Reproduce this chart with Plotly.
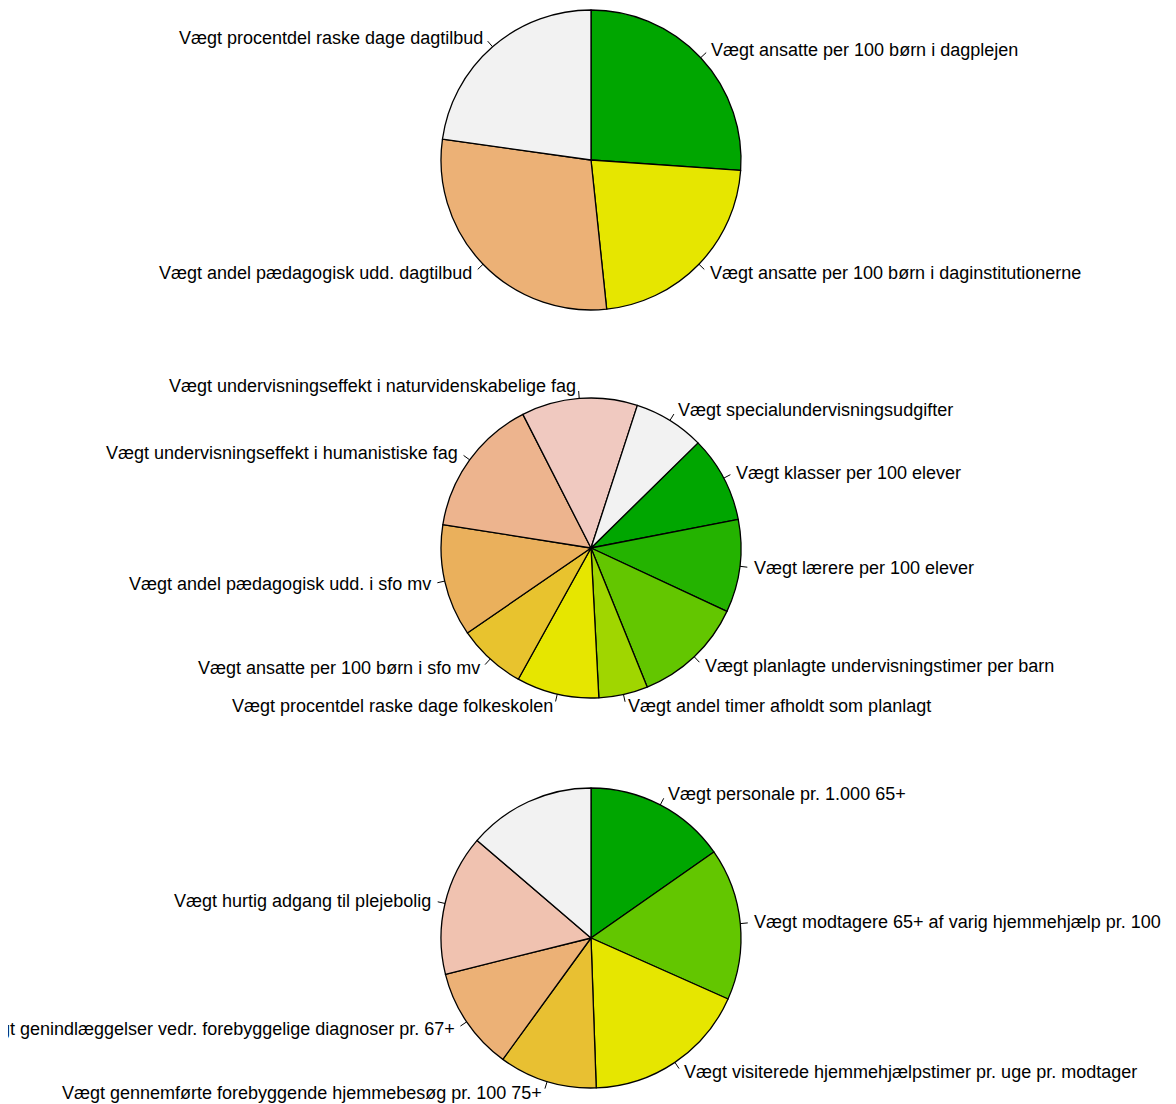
import numpy as np
import plotly.graph_objects as go

W, H = 1176, 1104

# pie 1: dagtilbud (degrees of the full circle, read clockwise from 12 o'clock)
labels1 = ["Vægt ansatte per 100 børn i dagplejen",
           "Vægt ansatte per 100 børn i daginstitutionerne",
           "Vægt andel pædagogisk udd. dagtilbud",
           "Vægt procentdel raske dage dagtilbud"]
values1 = [94, 80, 104, 82]
colors1 = ["#00A600", "#E6E600", "#ECB176", "#F2F2F2"]
start1 = 0

# pie 2: folkeskole
labels2 = ["Vægt klasser per 100 elever",
           "Vægt lærere per 100 elever",
           "Vægt planlagte undervisningstimer per barn",
           "Vægt andel timer afholdt som planlagt",
           "Vægt procentdel raske dage folkeskolen",
           "Vægt ansatte per 100 børn i sfo mv",
           "Vægt andel pædagogisk udd. i sfo mv",
           "Vægt undervisningseffekt i humanistiske fag",
           "Vægt undervisningseffekt i naturvidenskabelige fag",
           "Vægt specialundervisningsudgifter"]
values2 = [33.5, 36, 43, 19, 32, 26.5, 43.5, 54, 45, 27.5]
colors2 = ["#00A600", "#24B300", "#63C600", "#A0D600", "#E6E600",
           "#E8C32E", "#EAB05C", "#EDB48E", "#F0C9C0", "#F2F2F2"]
start2 = 45.5

# pie 3: ældre
labels3 = ["Vægt personale pr. 1.000 65+",
           "Vægt modtagere 65+ af varig hjemmehjælp pr. 100",
           "Vægt visiterede hjemmehjælpstimer pr. uge pr. modtager",
           "Vægt gennemførte forebyggende hjemmebesøg pr. 100 75+",
           "Vægt genindlæggelser vedr. forebyggelige diagnoser pr. 67+",
           "Vægt hurtig adgang til plejebolig",
           ""]
values3 = [55, 59, 64, 38, 40, 54.6, 49.4]
colors3 = ["#00A600", "#63C600", "#E6E600", "#E8C032", "#ECB176", "#F0C2B0", "#F2F2F2"]
start3 = 0

cx = 591
centers = [160, 548, 938]
R = 150
# page body margin shifts everything by 8px; compensate
ox, oy = -8, -8


def px(x):
    return (x + ox) / W


def py(y):
    return 1 - (y + oy) / H


fig = go.Figure()
pies = [(labels1, values1, colors1, start1),
        (labels2, values2, colors2, start2),
        (labels3, values3, colors3, start3)]

for (labs, vals, cols, start), cy in zip(pies, centers):
    fig.add_trace(go.Pie(
        labels=labs, values=vals, sort=False, direction="clockwise",
        rotation=start, textinfo="none", hoverinfo="label+value",
        marker=dict(colors=cols, line=dict(color="black", width=1.3)),
        domain=dict(x=[px(cx - R), px(cx + R)], y=[py(cy + R), py(cy - R)]),
        showlegend=False))
    total = sum(vals)
    acc = start
    for lab, v in zip(labs, vals):
        mid = np.radians(acc + v / total * 360 / 2)
        acc += v / total * 360
        if not lab:
            continue
        dx, dy = np.sin(mid), -np.cos(mid)
        fig.add_shape(type="line", xref="paper", yref="paper",
                      x0=px(cx + R * dx), y0=py(cy + R * dy),
                      x1=px(cx + R * 1.05 * dx), y1=py(cy + R * 1.05 * dy),
                      line=dict(color="black", width=1))
        fig.add_annotation(x=px(cx + R * 1.08 * dx), y=py(cy + R * 1.08 * dy),
                           xref="paper", yref="paper",
                           text=lab, showarrow=False,
                           xanchor="left" if dx >= 0 else "right",
                           yanchor="middle",
                           font=dict(size=18, color="black"))

fig.update_layout(width=W, height=H, margin=dict(l=0, r=0, t=0, b=0),
                  paper_bgcolor="white", plot_bgcolor="white",
                  font=dict(family="Liberation Sans, Arial, sans-serif"))
fig.write_html("out.html")
